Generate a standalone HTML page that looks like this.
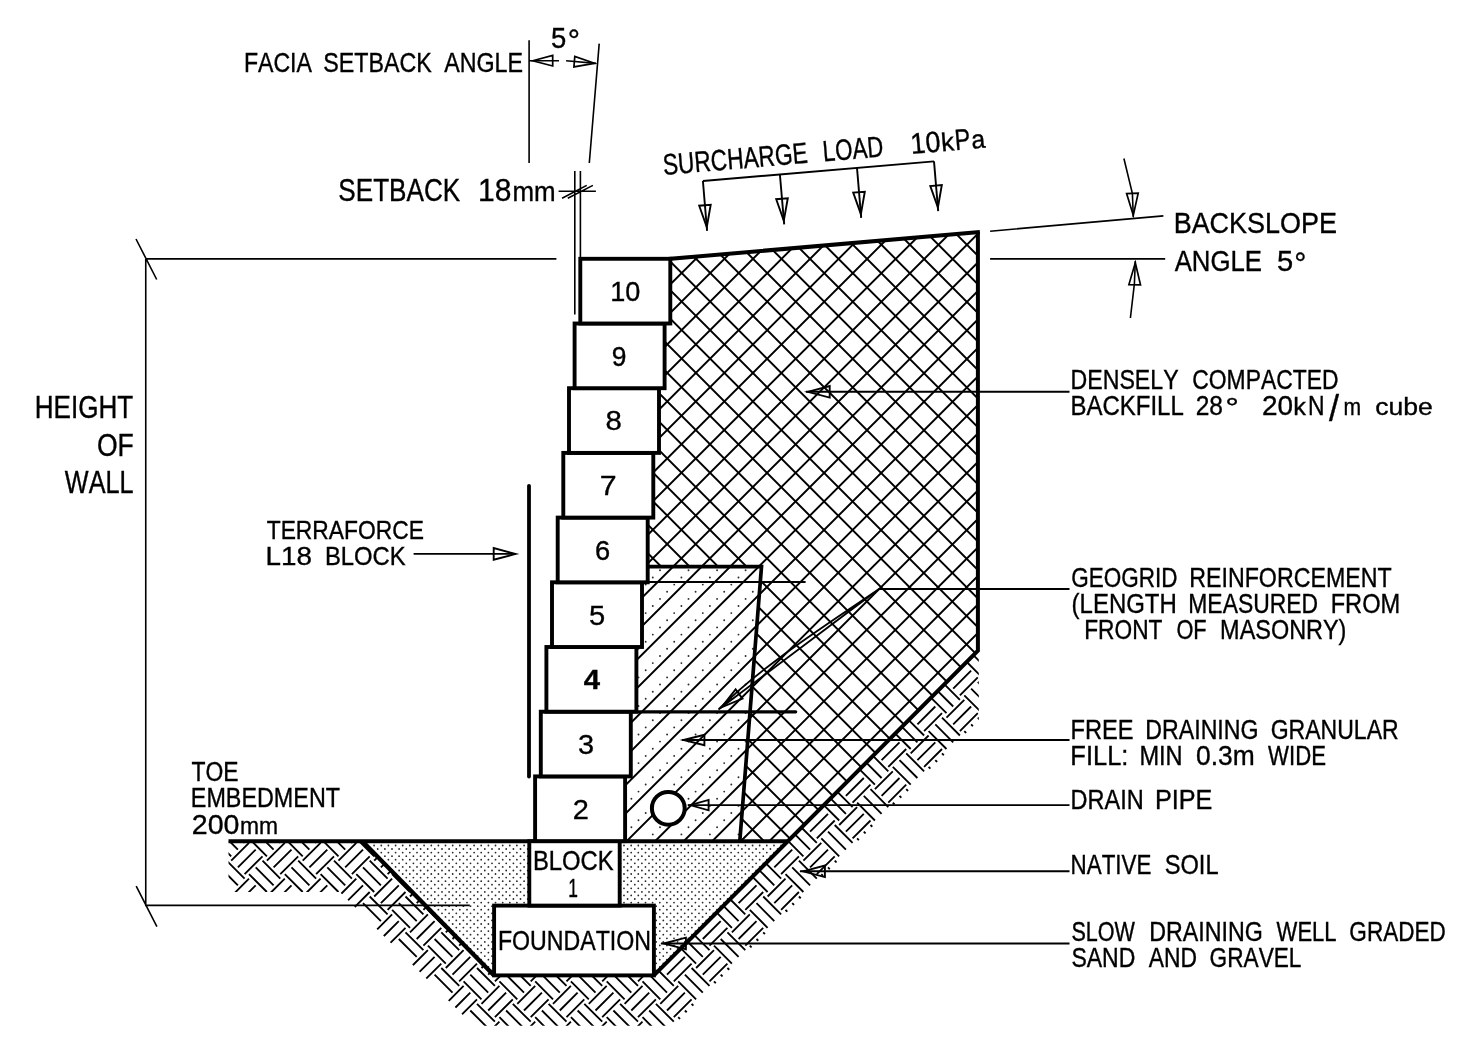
<!DOCTYPE html>
<html lang="en"><head><meta charset="utf-8"><title>Terraforce L18 retaining wall section</title>
<style>html,body{margin:0;padding:0;background:#fff}svg{display:block;will-change:transform}text{font-family:"Liberation Sans",Arial,sans-serif;fill:#000;font-kerning:none;stroke:#000;stroke-width:.35px;vector-effect:non-scaling-stroke}</style></head><body>
<svg width="1482" height="1053" viewBox="0 0 1482 1053">
<rect width="1482" height="1053" fill="#fff"/>
<defs>
<clipPath id="cbf"><polygon points="670.3,258.8 977.9,232.2 977.9,650.7 787.8,841.2 739.8,841.2 761.5,566.7 647.7,566.7 647.7,517.6 653.3,517.6 653.3,452.9 659.0,452.9 659.0,388.2 664.6,388.2 664.6,323.5 670.3,323.5 670.3,258.8"/></clipPath>
<clipPath id="cgf"><polygon points="647.7,566.7 761.5,566.7 739.8,841.2 625.1,841.2 625.1,841.1 625.1,776.4 630.8,776.4 630.8,711.7 636.4,711.7 636.4,647.0 642.0,647.0 642.0,582.3 647.7,582.3"/></clipPath>
<clipPath id="csand"><polygon points="362.4,841.2 787.8,841.2 653.9,975.4 494.1,975.4"/></clipPath>
<clipPath id="cearth"><polygon points="228.5,841.2 362.4,841.2 494.1,975.4 653.9,975.4 977.9,650.7 978.8,650.7 978.8,720.2 673.2,1025.8 473.6,1025.8 339.8,892.0 228.5,892.0"/></clipPath>
</defs>
<g clip-path="url(#cbf)"><path d="M583.5 200.0L-117.7 900.0M612.0 200.0L-89.1 900.0M640.6 200.0L-60.6 900.0M669.1 200.0L-32.0 900.0M697.7 200.0L-3.4 900.0M726.3 200.0L25.1 900.0M754.8 200.0L53.7 900.0M783.4 200.0L82.2 900.0M811.9 200.0L110.8 900.0M840.5 200.0L139.3 900.0M869.0 200.0L167.9 900.0M897.6 200.0L196.4 900.0M926.1 200.0L225.0 900.0M954.7 200.0L253.5 900.0M983.3 200.0L282.1 900.0M1011.8 200.0L310.7 900.0M1040.4 200.0L339.2 900.0M1068.9 200.0L367.8 900.0M1097.5 200.0L396.3 900.0M1126.0 200.0L424.9 900.0M1154.6 200.0L453.4 900.0M1183.1 200.0L482.0 900.0M1211.7 200.0L510.5 900.0M1240.2 200.0L539.1 900.0M1268.8 200.0L567.7 900.0M1297.4 200.0L596.2 900.0M1325.9 200.0L624.8 900.0M1354.5 200.0L653.3 900.0M1383.0 200.0L681.9 900.0M1411.6 200.0L710.4 900.0M1440.1 200.0L739.0 900.0M1468.7 200.0L767.5 900.0M1497.2 200.0L796.1 900.0M1525.8 200.0L824.6 900.0M1554.4 200.0L853.2 900.0M1582.9 200.0L881.8 900.0M1611.5 200.0L910.3 900.0M1640.0 200.0L938.9 900.0M1668.6 200.0L967.4 900.0M1697.1 200.0L996.0 900.0" stroke="#000" stroke-width="1.95" fill="none"/>
<path d="M-131.8 200.0L566.3 900.0M-103.3 200.0L594.8 900.0M-74.8 200.0L623.3 900.0M-46.3 200.0L651.8 900.0M-17.8 200.0L680.3 900.0M10.6 200.0L708.8 900.0M39.1 200.0L737.3 900.0M67.6 200.0L765.7 900.0M96.1 200.0L794.2 900.0M124.6 200.0L822.7 900.0M153.1 200.0L851.2 900.0M181.6 200.0L879.7 900.0M210.1 200.0L908.2 900.0M238.6 200.0L936.7 900.0M267.0 200.0L965.2 900.0M295.5 200.0L993.7 900.0M324.0 200.0L1022.1 900.0M352.5 200.0L1050.6 900.0M381.0 200.0L1079.1 900.0M409.5 200.0L1107.6 900.0M438.0 200.0L1136.1 900.0M466.5 200.0L1164.6 900.0M494.9 200.0L1193.1 900.0M523.4 200.0L1221.6 900.0M551.9 200.0L1250.0 900.0M580.4 200.0L1278.5 900.0M608.9 200.0L1307.0 900.0M637.4 200.0L1335.5 900.0M665.9 200.0L1364.0 900.0M694.4 200.0L1392.5 900.0M722.8 200.0L1421.0 900.0M751.3 200.0L1449.5 900.0M779.8 200.0L1477.9 900.0M808.3 200.0L1506.4 900.0M836.8 200.0L1534.9 900.0M865.3 200.0L1563.4 900.0M893.8 200.0L1591.9 900.0M922.3 200.0L1620.4 900.0M950.8 200.0L1648.9 900.0M979.2 200.0L1677.4 900.0" stroke="#000" stroke-width="1.95" fill="none"/></g>
<g clip-path="url(#cgf)"><path d="M583.5 200.0L-117.7 900.0M612.0 200.0L-89.1 900.0M640.6 200.0L-60.6 900.0M669.1 200.0L-32.0 900.0M697.7 200.0L-3.4 900.0M726.3 200.0L25.1 900.0M754.8 200.0L53.7 900.0M783.4 200.0L82.2 900.0M811.9 200.0L110.8 900.0M840.5 200.0L139.3 900.0M869.0 200.0L167.9 900.0M897.6 200.0L196.4 900.0M926.1 200.0L225.0 900.0M954.7 200.0L253.5 900.0M983.3 200.0L282.1 900.0M1011.8 200.0L310.7 900.0M1040.4 200.0L339.2 900.0M1068.9 200.0L367.8 900.0M1097.5 200.0L396.3 900.0M1126.0 200.0L424.9 900.0M1154.6 200.0L453.4 900.0M1183.1 200.0L482.0 900.0M1211.7 200.0L510.5 900.0M1240.2 200.0L539.1 900.0M1268.8 200.0L567.7 900.0M1297.4 200.0L596.2 900.0M1325.9 200.0L624.8 900.0M1354.5 200.0L653.3 900.0M1383.0 200.0L681.9 900.0M1411.6 200.0L710.4 900.0M1440.1 200.0L739.0 900.0M1468.7 200.0L767.5 900.0M1497.2 200.0L796.1 900.0M1525.8 200.0L824.6 900.0M1554.4 200.0L853.2 900.0M1582.9 200.0L881.8 900.0M1611.5 200.0L910.3 900.0M1640.0 200.0L938.9 900.0M1668.6 200.0L967.4 900.0M1697.1 200.0L996.0 900.0" stroke="#000" stroke-width="1.95" fill="none"/>
<path d="M638.5 563.2h0M631.4 570.3h0M624.3 577.5h0M617.1 584.6h0M667.1 563.2h0M660.0 570.3h0M652.8 577.5h0M645.7 584.6h0M638.5 591.7h0M631.4 598.9h0M624.3 606.0h0M617.1 613.1h0M695.6 563.2h0M688.5 570.3h0M681.4 577.5h0M674.2 584.6h0M667.1 591.7h0M660.0 598.9h0M652.8 606.0h0M645.7 613.1h0M638.5 620.3h0M631.4 627.4h0M624.3 634.6h0M617.1 641.7h0M724.2 563.2h0M717.1 570.3h0M709.9 577.5h0M702.8 584.6h0M695.6 591.7h0M688.5 598.9h0M681.4 606.0h0M674.2 613.1h0M667.1 620.3h0M660.0 627.4h0M652.8 634.6h0M645.7 641.7h0M638.5 648.8h0M631.4 656.0h0M624.3 663.1h0M617.1 670.3h0M752.8 563.2h0M745.6 570.3h0M738.5 577.5h0M731.3 584.6h0M724.2 591.7h0M717.1 598.9h0M709.9 606.0h0M702.8 613.1h0M695.6 620.3h0M688.5 627.4h0M681.4 634.6h0M674.2 641.7h0M667.1 648.8h0M660.0 656.0h0M652.8 663.1h0M645.7 670.3h0M638.5 677.4h0M631.4 684.5h0M624.3 691.7h0M617.1 698.8h0M774.2 570.3h0M767.0 577.5h0M759.9 584.6h0M752.8 591.7h0M745.6 598.9h0M738.5 606.0h0M731.3 613.1h0M724.2 620.3h0M717.1 627.4h0M709.9 634.6h0M702.8 641.7h0M695.6 648.8h0M688.5 656.0h0M681.4 663.1h0M674.2 670.3h0M667.1 677.4h0M660.0 684.5h0M652.8 691.7h0M645.7 698.8h0M638.5 706.0h0M631.4 713.1h0M624.3 720.2h0M617.1 727.4h0M774.2 598.9h0M767.0 606.0h0M759.9 613.1h0M752.8 620.3h0M745.6 627.4h0M738.5 634.6h0M731.3 641.7h0M724.2 648.8h0M717.1 656.0h0M709.9 663.1h0M702.8 670.3h0M695.6 677.4h0M688.5 684.5h0M681.4 691.7h0M674.2 698.8h0M667.1 706.0h0M660.0 713.1h0M652.8 720.2h0M645.7 727.4h0M638.5 734.5h0M631.4 741.6h0M624.3 748.8h0M617.1 755.9h0M774.2 627.4h0M767.0 634.6h0M759.9 641.7h0M752.8 648.8h0M745.6 656.0h0M738.5 663.1h0M731.3 670.3h0M724.2 677.4h0M717.1 684.5h0M709.9 691.7h0M702.8 698.8h0M695.6 706.0h0M688.5 713.1h0M681.4 720.2h0M674.2 727.4h0M667.1 734.5h0M660.0 741.6h0M652.8 748.8h0M645.7 755.9h0M638.5 763.1h0M631.4 770.2h0M624.3 777.3h0M617.1 784.5h0M774.2 656.0h0M767.0 663.1h0M759.9 670.3h0M752.8 677.4h0M745.6 684.5h0M738.5 691.7h0M731.3 698.8h0M724.2 706.0h0M717.1 713.1h0M709.9 720.2h0M702.8 727.4h0M695.6 734.5h0M688.5 741.6h0M681.4 748.8h0M674.2 755.9h0M667.1 763.1h0M660.0 770.2h0M652.8 777.3h0M645.7 784.5h0M638.5 791.6h0M631.4 798.8h0M624.3 805.9h0M617.1 813.0h0M774.2 684.5h0M767.0 691.7h0M759.9 698.8h0M752.8 706.0h0M745.6 713.1h0M738.5 720.2h0M731.3 727.4h0M724.2 734.5h0M717.1 741.6h0M709.9 748.8h0M702.8 755.9h0M695.6 763.1h0M688.5 770.2h0M681.4 777.3h0M674.2 784.5h0M667.1 791.6h0M660.0 798.8h0M652.8 805.9h0M645.7 813.0h0M638.5 820.2h0M631.4 827.3h0M624.3 834.4h0M617.1 841.6h0M774.2 713.1h0M767.0 720.2h0M759.9 727.4h0M752.8 734.5h0M745.6 741.6h0M738.5 748.8h0M731.3 755.9h0M724.2 763.1h0M717.1 770.2h0M709.9 777.3h0M702.8 784.5h0M695.6 791.6h0M688.5 798.8h0M681.4 805.9h0M674.2 813.0h0M667.1 820.2h0M660.0 827.3h0M652.8 834.4h0M645.7 841.6h0M774.2 741.6h0M767.0 748.8h0M759.9 755.9h0M752.8 763.1h0M745.6 770.2h0M738.5 777.3h0M731.3 784.5h0M724.2 791.6h0M717.1 798.8h0M709.9 805.9h0M702.8 813.0h0M695.6 820.2h0M688.5 827.3h0M681.4 834.4h0M674.2 841.6h0M774.2 770.2h0M767.0 777.3h0M759.9 784.5h0M752.8 791.6h0M745.6 798.8h0M738.5 805.9h0M731.3 813.0h0M724.2 820.2h0M717.1 827.3h0M709.9 834.4h0M702.8 841.6h0M774.2 798.8h0M767.0 805.9h0M759.9 813.0h0M752.8 820.2h0M745.6 827.3h0M738.5 834.4h0M731.3 841.6h0" stroke="#2a2a2a" stroke-width="1.9" stroke-linecap="round" fill="none"/></g>
<g clip-path="url(#csand)"><path d="M356.3 841.9h0M356.3 849.0h0M356.3 856.2h0M356.3 863.3h0M356.3 870.5h0M356.3 877.6h0M356.3 884.7h0M356.3 891.9h0M356.3 899.0h0M356.3 906.2h0M356.3 913.3h0M356.3 920.4h0M356.3 927.6h0M356.3 934.7h0M356.3 941.9h0M356.3 949.0h0M356.3 956.1h0M356.3 963.3h0M356.3 970.4h0M356.3 977.6h0M363.4 841.9h0M359.9 845.5h0M363.4 849.0h0M359.9 852.6h0M363.4 856.2h0M359.9 859.7h0M363.4 863.3h0M359.9 866.9h0M363.4 870.5h0M359.9 874.0h0M363.4 877.6h0M359.9 881.2h0M363.4 884.7h0M359.9 888.3h0M363.4 891.9h0M359.9 895.4h0M363.4 899.0h0M359.9 902.6h0M363.4 906.2h0M359.9 909.7h0M363.4 913.3h0M359.9 916.9h0M363.4 920.4h0M359.9 924.0h0M363.4 927.6h0M359.9 931.1h0M363.4 934.7h0M359.9 938.3h0M363.4 941.9h0M359.9 945.4h0M363.4 949.0h0M359.9 952.6h0M363.4 956.1h0M359.9 959.7h0M363.4 963.3h0M359.9 966.8h0M363.4 970.4h0M359.9 974.0h0M363.4 977.6h0M370.6 841.9h0M367.0 845.5h0M370.6 849.0h0M367.0 852.6h0M370.6 856.2h0M367.0 859.7h0M370.6 863.3h0M367.0 866.9h0M370.6 870.5h0M367.0 874.0h0M370.6 877.6h0M367.0 881.2h0M370.6 884.7h0M367.0 888.3h0M370.6 891.9h0M367.0 895.4h0M370.6 899.0h0M367.0 902.6h0M370.6 906.2h0M367.0 909.7h0M370.6 913.3h0M367.0 916.9h0M370.6 920.4h0M367.0 924.0h0M370.6 927.6h0M367.0 931.1h0M370.6 934.7h0M367.0 938.3h0M370.6 941.9h0M367.0 945.4h0M370.6 949.0h0M367.0 952.6h0M370.6 956.1h0M367.0 959.7h0M370.6 963.3h0M367.0 966.8h0M370.6 970.4h0M367.0 974.0h0M370.6 977.6h0M377.7 841.9h0M374.1 845.5h0M377.7 849.0h0M374.1 852.6h0M377.7 856.2h0M374.1 859.7h0M377.7 863.3h0M374.1 866.9h0M377.7 870.5h0M374.1 874.0h0M377.7 877.6h0M374.1 881.2h0M377.7 884.7h0M374.1 888.3h0M377.7 891.9h0M374.1 895.4h0M377.7 899.0h0M374.1 902.6h0M377.7 906.2h0M374.1 909.7h0M377.7 913.3h0M374.1 916.9h0M377.7 920.4h0M374.1 924.0h0M377.7 927.6h0M374.1 931.1h0M377.7 934.7h0M374.1 938.3h0M377.7 941.9h0M374.1 945.4h0M377.7 949.0h0M374.1 952.6h0M377.7 956.1h0M374.1 959.7h0M377.7 963.3h0M374.1 966.8h0M377.7 970.4h0M374.1 974.0h0M377.7 977.6h0M384.9 841.9h0M381.3 845.5h0M384.9 849.0h0M381.3 852.6h0M384.9 856.2h0M381.3 859.7h0M384.9 863.3h0M381.3 866.9h0M384.9 870.5h0M381.3 874.0h0M384.9 877.6h0M381.3 881.2h0M384.9 884.7h0M381.3 888.3h0M384.9 891.9h0M381.3 895.4h0M384.9 899.0h0M381.3 902.6h0M384.9 906.2h0M381.3 909.7h0M384.9 913.3h0M381.3 916.9h0M384.9 920.4h0M381.3 924.0h0M384.9 927.6h0M381.3 931.1h0M384.9 934.7h0M381.3 938.3h0M384.9 941.9h0M381.3 945.4h0M384.9 949.0h0M381.3 952.6h0M384.9 956.1h0M381.3 959.7h0M384.9 963.3h0M381.3 966.8h0M384.9 970.4h0M381.3 974.0h0M384.9 977.6h0M392.0 841.9h0M388.4 845.5h0M392.0 849.0h0M388.4 852.6h0M392.0 856.2h0M388.4 859.7h0M392.0 863.3h0M388.4 866.9h0M392.0 870.5h0M388.4 874.0h0M392.0 877.6h0M388.4 881.2h0M392.0 884.7h0M388.4 888.3h0M392.0 891.9h0M388.4 895.4h0M392.0 899.0h0M388.4 902.6h0M392.0 906.2h0M388.4 909.7h0M392.0 913.3h0M388.4 916.9h0M392.0 920.4h0M388.4 924.0h0M392.0 927.6h0M388.4 931.1h0M392.0 934.7h0M388.4 938.3h0M392.0 941.9h0M388.4 945.4h0M392.0 949.0h0M388.4 952.6h0M392.0 956.1h0M388.4 959.7h0M392.0 963.3h0M388.4 966.8h0M392.0 970.4h0M388.4 974.0h0M392.0 977.6h0M399.1 841.9h0M395.6 845.5h0M399.1 849.0h0M395.6 852.6h0M399.1 856.2h0M395.6 859.7h0M399.1 863.3h0M395.6 866.9h0M399.1 870.5h0M395.6 874.0h0M399.1 877.6h0M395.6 881.2h0M399.1 884.7h0M395.6 888.3h0M399.1 891.9h0M395.6 895.4h0M399.1 899.0h0M395.6 902.6h0M399.1 906.2h0M395.6 909.7h0M399.1 913.3h0M395.6 916.9h0M399.1 920.4h0M395.6 924.0h0M399.1 927.6h0M395.6 931.1h0M399.1 934.7h0M395.6 938.3h0M399.1 941.9h0M395.6 945.4h0M399.1 949.0h0M395.6 952.6h0M399.1 956.1h0M395.6 959.7h0M399.1 963.3h0M395.6 966.8h0M399.1 970.4h0M395.6 974.0h0M399.1 977.6h0M406.3 841.9h0M402.7 845.5h0M406.3 849.0h0M402.7 852.6h0M406.3 856.2h0M402.7 859.7h0M406.3 863.3h0M402.7 866.9h0M406.3 870.5h0M402.7 874.0h0M406.3 877.6h0M402.7 881.2h0M406.3 884.7h0M402.7 888.3h0M406.3 891.9h0M402.7 895.4h0M406.3 899.0h0M402.7 902.6h0M406.3 906.2h0M402.7 909.7h0M406.3 913.3h0M402.7 916.9h0M406.3 920.4h0M402.7 924.0h0M406.3 927.6h0M402.7 931.1h0M406.3 934.7h0M402.7 938.3h0M406.3 941.9h0M402.7 945.4h0M406.3 949.0h0M402.7 952.6h0M406.3 956.1h0M402.7 959.7h0M406.3 963.3h0M402.7 966.8h0M406.3 970.4h0M402.7 974.0h0M406.3 977.6h0M413.4 841.9h0M409.8 845.5h0M413.4 849.0h0M409.8 852.6h0M413.4 856.2h0M409.8 859.7h0M413.4 863.3h0M409.8 866.9h0M413.4 870.5h0M409.8 874.0h0M413.4 877.6h0M409.8 881.2h0M413.4 884.7h0M409.8 888.3h0M413.4 891.9h0M409.8 895.4h0M413.4 899.0h0M409.8 902.6h0M413.4 906.2h0M409.8 909.7h0M413.4 913.3h0M409.8 916.9h0M413.4 920.4h0M409.8 924.0h0M413.4 927.6h0M409.8 931.1h0M413.4 934.7h0M409.8 938.3h0M413.4 941.9h0M409.8 945.4h0M413.4 949.0h0M409.8 952.6h0M413.4 956.1h0M409.8 959.7h0M413.4 963.3h0M409.8 966.8h0M413.4 970.4h0M409.8 974.0h0M413.4 977.6h0M420.6 841.9h0M417.0 845.5h0M420.6 849.0h0M417.0 852.6h0M420.6 856.2h0M417.0 859.7h0M420.6 863.3h0M417.0 866.9h0M420.6 870.5h0M417.0 874.0h0M420.6 877.6h0M417.0 881.2h0M420.6 884.7h0M417.0 888.3h0M420.6 891.9h0M417.0 895.4h0M420.6 899.0h0M417.0 902.6h0M420.6 906.2h0M417.0 909.7h0M420.6 913.3h0M417.0 916.9h0M420.6 920.4h0M417.0 924.0h0M420.6 927.6h0M417.0 931.1h0M420.6 934.7h0M417.0 938.3h0M420.6 941.9h0M417.0 945.4h0M420.6 949.0h0M417.0 952.6h0M420.6 956.1h0M417.0 959.7h0M420.6 963.3h0M417.0 966.8h0M420.6 970.4h0M417.0 974.0h0M420.6 977.6h0M427.7 841.9h0M424.1 845.5h0M427.7 849.0h0M424.1 852.6h0M427.7 856.2h0M424.1 859.7h0M427.7 863.3h0M424.1 866.9h0M427.7 870.5h0M424.1 874.0h0M427.7 877.6h0M424.1 881.2h0M427.7 884.7h0M424.1 888.3h0M427.7 891.9h0M424.1 895.4h0M427.7 899.0h0M424.1 902.6h0M427.7 906.2h0M424.1 909.7h0M427.7 913.3h0M424.1 916.9h0M427.7 920.4h0M424.1 924.0h0M427.7 927.6h0M424.1 931.1h0M427.7 934.7h0M424.1 938.3h0M427.7 941.9h0M424.1 945.4h0M427.7 949.0h0M424.1 952.6h0M427.7 956.1h0M424.1 959.7h0M427.7 963.3h0M424.1 966.8h0M427.7 970.4h0M424.1 974.0h0M427.7 977.6h0M434.8 841.9h0M431.3 845.5h0M434.8 849.0h0M431.3 852.6h0M434.8 856.2h0M431.3 859.7h0M434.8 863.3h0M431.3 866.9h0M434.8 870.5h0M431.3 874.0h0M434.8 877.6h0M431.3 881.2h0M434.8 884.7h0M431.3 888.3h0M434.8 891.9h0M431.3 895.4h0M434.8 899.0h0M431.3 902.6h0M434.8 906.2h0M431.3 909.7h0M434.8 913.3h0M431.3 916.9h0M434.8 920.4h0M431.3 924.0h0M434.8 927.6h0M431.3 931.1h0M434.8 934.7h0M431.3 938.3h0M434.8 941.9h0M431.3 945.4h0M434.8 949.0h0M431.3 952.6h0M434.8 956.1h0M431.3 959.7h0M434.8 963.3h0M431.3 966.8h0M434.8 970.4h0M431.3 974.0h0M434.8 977.6h0M442.0 841.9h0M438.4 845.5h0M442.0 849.0h0M438.4 852.6h0M442.0 856.2h0M438.4 859.7h0M442.0 863.3h0M438.4 866.9h0M442.0 870.5h0M438.4 874.0h0M442.0 877.6h0M438.4 881.2h0M442.0 884.7h0M438.4 888.3h0M442.0 891.9h0M438.4 895.4h0M442.0 899.0h0M438.4 902.6h0M442.0 906.2h0M438.4 909.7h0M442.0 913.3h0M438.4 916.9h0M442.0 920.4h0M438.4 924.0h0M442.0 927.6h0M438.4 931.1h0M442.0 934.7h0M438.4 938.3h0M442.0 941.9h0M438.4 945.4h0M442.0 949.0h0M438.4 952.6h0M442.0 956.1h0M438.4 959.7h0M442.0 963.3h0M438.4 966.8h0M442.0 970.4h0M438.4 974.0h0M442.0 977.6h0M449.1 841.9h0M445.5 845.5h0M449.1 849.0h0M445.5 852.6h0M449.1 856.2h0M445.5 859.7h0M449.1 863.3h0M445.5 866.9h0M449.1 870.5h0M445.5 874.0h0M449.1 877.6h0M445.5 881.2h0M449.1 884.7h0M445.5 888.3h0M449.1 891.9h0M445.5 895.4h0M449.1 899.0h0M445.5 902.6h0M449.1 906.2h0M445.5 909.7h0M449.1 913.3h0M445.5 916.9h0M449.1 920.4h0M445.5 924.0h0M449.1 927.6h0M445.5 931.1h0M449.1 934.7h0M445.5 938.3h0M449.1 941.9h0M445.5 945.4h0M449.1 949.0h0M445.5 952.6h0M449.1 956.1h0M445.5 959.7h0M449.1 963.3h0M445.5 966.8h0M449.1 970.4h0M445.5 974.0h0M449.1 977.6h0M456.3 841.9h0M452.7 845.5h0M456.3 849.0h0M452.7 852.6h0M456.3 856.2h0M452.7 859.7h0M456.3 863.3h0M452.7 866.9h0M456.3 870.5h0M452.7 874.0h0M456.3 877.6h0M452.7 881.2h0M456.3 884.7h0M452.7 888.3h0M456.3 891.9h0M452.7 895.4h0M456.3 899.0h0M452.7 902.6h0M456.3 906.2h0M452.7 909.7h0M456.3 913.3h0M452.7 916.9h0M456.3 920.4h0M452.7 924.0h0M456.3 927.6h0M452.7 931.1h0M456.3 934.7h0M452.7 938.3h0M456.3 941.9h0M452.7 945.4h0M456.3 949.0h0M452.7 952.6h0M456.3 956.1h0M452.7 959.7h0M456.3 963.3h0M452.7 966.8h0M456.3 970.4h0M452.7 974.0h0M456.3 977.6h0M463.4 841.9h0M459.8 845.5h0M463.4 849.0h0M459.8 852.6h0M463.4 856.2h0M459.8 859.7h0M463.4 863.3h0M459.8 866.9h0M463.4 870.5h0M459.8 874.0h0M463.4 877.6h0M459.8 881.2h0M463.4 884.7h0M459.8 888.3h0M463.4 891.9h0M459.8 895.4h0M463.4 899.0h0M459.8 902.6h0M463.4 906.2h0M459.8 909.7h0M463.4 913.3h0M459.8 916.9h0M463.4 920.4h0M459.8 924.0h0M463.4 927.6h0M459.8 931.1h0M463.4 934.7h0M459.8 938.3h0M463.4 941.9h0M459.8 945.4h0M463.4 949.0h0M459.8 952.6h0M463.4 956.1h0M459.8 959.7h0M463.4 963.3h0M459.8 966.8h0M463.4 970.4h0M459.8 974.0h0M463.4 977.6h0M470.5 841.9h0M467.0 845.5h0M470.5 849.0h0M467.0 852.6h0M470.5 856.2h0M467.0 859.7h0M470.5 863.3h0M467.0 866.9h0M470.5 870.5h0M467.0 874.0h0M470.5 877.6h0M467.0 881.2h0M470.5 884.7h0M467.0 888.3h0M470.5 891.9h0M467.0 895.4h0M470.5 899.0h0M467.0 902.6h0M470.5 906.2h0M467.0 909.7h0M470.5 913.3h0M467.0 916.9h0M470.5 920.4h0M467.0 924.0h0M470.5 927.6h0M467.0 931.1h0M470.5 934.7h0M467.0 938.3h0M470.5 941.9h0M467.0 945.4h0M470.5 949.0h0M467.0 952.6h0M470.5 956.1h0M467.0 959.7h0M470.5 963.3h0M467.0 966.8h0M470.5 970.4h0M467.0 974.0h0M470.5 977.6h0M477.7 841.9h0M474.1 845.5h0M477.7 849.0h0M474.1 852.6h0M477.7 856.2h0M474.1 859.7h0M477.7 863.3h0M474.1 866.9h0M477.7 870.5h0M474.1 874.0h0M477.7 877.6h0M474.1 881.2h0M477.7 884.7h0M474.1 888.3h0M477.7 891.9h0M474.1 895.4h0M477.7 899.0h0M474.1 902.6h0M477.7 906.2h0M474.1 909.7h0M477.7 913.3h0M474.1 916.9h0M477.7 920.4h0M474.1 924.0h0M477.7 927.6h0M474.1 931.1h0M477.7 934.7h0M474.1 938.3h0M477.7 941.9h0M474.1 945.4h0M477.7 949.0h0M474.1 952.6h0M477.7 956.1h0M474.1 959.7h0M477.7 963.3h0M474.1 966.8h0M477.7 970.4h0M474.1 974.0h0M477.7 977.6h0M484.8 841.9h0M481.2 845.5h0M484.8 849.0h0M481.2 852.6h0M484.8 856.2h0M481.2 859.7h0M484.8 863.3h0M481.2 866.9h0M484.8 870.5h0M481.2 874.0h0M484.8 877.6h0M481.2 881.2h0M484.8 884.7h0M481.2 888.3h0M484.8 891.9h0M481.2 895.4h0M484.8 899.0h0M481.2 902.6h0M484.8 906.2h0M481.2 909.7h0M484.8 913.3h0M481.2 916.9h0M484.8 920.4h0M481.2 924.0h0M484.8 927.6h0M481.2 931.1h0M484.8 934.7h0M481.2 938.3h0M484.8 941.9h0M481.2 945.4h0M484.8 949.0h0M481.2 952.6h0M484.8 956.1h0M481.2 959.7h0M484.8 963.3h0M481.2 966.8h0M484.8 970.4h0M481.2 974.0h0M484.8 977.6h0M492.0 841.9h0M488.4 845.5h0M492.0 849.0h0M488.4 852.6h0M492.0 856.2h0M488.4 859.7h0M492.0 863.3h0M488.4 866.9h0M492.0 870.5h0M488.4 874.0h0M492.0 877.6h0M488.4 881.2h0M492.0 884.7h0M488.4 888.3h0M492.0 891.9h0M488.4 895.4h0M492.0 899.0h0M488.4 902.6h0M492.0 906.2h0M488.4 909.7h0M492.0 913.3h0M488.4 916.9h0M492.0 920.4h0M488.4 924.0h0M492.0 927.6h0M488.4 931.1h0M492.0 934.7h0M488.4 938.3h0M492.0 941.9h0M488.4 945.4h0M492.0 949.0h0M488.4 952.6h0M492.0 956.1h0M488.4 959.7h0M492.0 963.3h0M488.4 966.8h0M492.0 970.4h0M488.4 974.0h0M492.0 977.6h0M499.1 841.9h0M495.5 845.5h0M499.1 849.0h0M495.5 852.6h0M499.1 856.2h0M495.5 859.7h0M499.1 863.3h0M495.5 866.9h0M499.1 870.5h0M495.5 874.0h0M499.1 877.6h0M495.5 881.2h0M499.1 884.7h0M495.5 888.3h0M499.1 891.9h0M495.5 895.4h0M499.1 899.0h0M495.5 902.6h0M499.1 906.2h0M495.5 909.7h0M499.1 913.3h0M495.5 916.9h0M499.1 920.4h0M495.5 924.0h0M499.1 927.6h0M495.5 931.1h0M499.1 934.7h0M495.5 938.3h0M499.1 941.9h0M495.5 945.4h0M499.1 949.0h0M495.5 952.6h0M499.1 956.1h0M495.5 959.7h0M499.1 963.3h0M495.5 966.8h0M499.1 970.4h0M495.5 974.0h0M499.1 977.6h0M506.2 841.9h0M502.7 845.5h0M506.2 849.0h0M502.7 852.6h0M506.2 856.2h0M502.7 859.7h0M506.2 863.3h0M502.7 866.9h0M506.2 870.5h0M502.7 874.0h0M506.2 877.6h0M502.7 881.2h0M506.2 884.7h0M502.7 888.3h0M506.2 891.9h0M502.7 895.4h0M506.2 899.0h0M502.7 902.6h0M506.2 906.2h0M502.7 909.7h0M506.2 913.3h0M502.7 916.9h0M506.2 920.4h0M502.7 924.0h0M506.2 927.6h0M502.7 931.1h0M506.2 934.7h0M502.7 938.3h0M506.2 941.9h0M502.7 945.4h0M506.2 949.0h0M502.7 952.6h0M506.2 956.1h0M502.7 959.7h0M506.2 963.3h0M502.7 966.8h0M506.2 970.4h0M502.7 974.0h0M506.2 977.6h0M513.4 841.9h0M509.8 845.5h0M513.4 849.0h0M509.8 852.6h0M513.4 856.2h0M509.8 859.7h0M513.4 863.3h0M509.8 866.9h0M513.4 870.5h0M509.8 874.0h0M513.4 877.6h0M509.8 881.2h0M513.4 884.7h0M509.8 888.3h0M513.4 891.9h0M509.8 895.4h0M513.4 899.0h0M509.8 902.6h0M513.4 906.2h0M509.8 909.7h0M513.4 913.3h0M509.8 916.9h0M513.4 920.4h0M509.8 924.0h0M513.4 927.6h0M509.8 931.1h0M513.4 934.7h0M509.8 938.3h0M513.4 941.9h0M509.8 945.4h0M513.4 949.0h0M509.8 952.6h0M513.4 956.1h0M509.8 959.7h0M513.4 963.3h0M509.8 966.8h0M513.4 970.4h0M509.8 974.0h0M513.4 977.6h0M520.5 841.9h0M516.9 845.5h0M520.5 849.0h0M516.9 852.6h0M520.5 856.2h0M516.9 859.7h0M520.5 863.3h0M516.9 866.9h0M520.5 870.5h0M516.9 874.0h0M520.5 877.6h0M516.9 881.2h0M520.5 884.7h0M516.9 888.3h0M520.5 891.9h0M516.9 895.4h0M520.5 899.0h0M516.9 902.6h0M520.5 906.2h0M516.9 909.7h0M520.5 913.3h0M516.9 916.9h0M520.5 920.4h0M516.9 924.0h0M520.5 927.6h0M516.9 931.1h0M520.5 934.7h0M516.9 938.3h0M520.5 941.9h0M516.9 945.4h0M520.5 949.0h0M516.9 952.6h0M520.5 956.1h0M516.9 959.7h0M520.5 963.3h0M516.9 966.8h0M520.5 970.4h0M516.9 974.0h0M520.5 977.6h0M527.7 841.9h0M524.1 845.5h0M527.7 849.0h0M524.1 852.6h0M527.7 856.2h0M524.1 859.7h0M527.7 863.3h0M524.1 866.9h0M527.7 870.5h0M524.1 874.0h0M527.7 877.6h0M524.1 881.2h0M527.7 884.7h0M524.1 888.3h0M527.7 891.9h0M524.1 895.4h0M527.7 899.0h0M524.1 902.6h0M527.7 906.2h0M524.1 909.7h0M527.7 913.3h0M524.1 916.9h0M527.7 920.4h0M524.1 924.0h0M527.7 927.6h0M524.1 931.1h0M527.7 934.7h0M524.1 938.3h0M527.7 941.9h0M524.1 945.4h0M527.7 949.0h0M524.1 952.6h0M527.7 956.1h0M524.1 959.7h0M527.7 963.3h0M524.1 966.8h0M527.7 970.4h0M524.1 974.0h0M527.7 977.6h0M534.8 841.9h0M531.2 845.5h0M534.8 849.0h0M531.2 852.6h0M534.8 856.2h0M531.2 859.7h0M534.8 863.3h0M531.2 866.9h0M534.8 870.5h0M531.2 874.0h0M534.8 877.6h0M531.2 881.2h0M534.8 884.7h0M531.2 888.3h0M534.8 891.9h0M531.2 895.4h0M534.8 899.0h0M531.2 902.6h0M534.8 906.2h0M531.2 909.7h0M534.8 913.3h0M531.2 916.9h0M534.8 920.4h0M531.2 924.0h0M534.8 927.6h0M531.2 931.1h0M534.8 934.7h0M531.2 938.3h0M534.8 941.9h0M531.2 945.4h0M534.8 949.0h0M531.2 952.6h0M534.8 956.1h0M531.2 959.7h0M534.8 963.3h0M531.2 966.8h0M534.8 970.4h0M531.2 974.0h0M534.8 977.6h0M541.9 841.9h0M538.4 845.5h0M541.9 849.0h0M538.4 852.6h0M541.9 856.2h0M538.4 859.7h0M541.9 863.3h0M538.4 866.9h0M541.9 870.5h0M538.4 874.0h0M541.9 877.6h0M538.4 881.2h0M541.9 884.7h0M538.4 888.3h0M541.9 891.9h0M538.4 895.4h0M541.9 899.0h0M538.4 902.6h0M541.9 906.2h0M538.4 909.7h0M541.9 913.3h0M538.4 916.9h0M541.9 920.4h0M538.4 924.0h0M541.9 927.6h0M538.4 931.1h0M541.9 934.7h0M538.4 938.3h0M541.9 941.9h0M538.4 945.4h0M541.9 949.0h0M538.4 952.6h0M541.9 956.1h0M538.4 959.7h0M541.9 963.3h0M538.4 966.8h0M541.9 970.4h0M538.4 974.0h0M541.9 977.6h0M549.1 841.9h0M545.5 845.5h0M549.1 849.0h0M545.5 852.6h0M549.1 856.2h0M545.5 859.7h0M549.1 863.3h0M545.5 866.9h0M549.1 870.5h0M545.5 874.0h0M549.1 877.6h0M545.5 881.2h0M549.1 884.7h0M545.5 888.3h0M549.1 891.9h0M545.5 895.4h0M549.1 899.0h0M545.5 902.6h0M549.1 906.2h0M545.5 909.7h0M549.1 913.3h0M545.5 916.9h0M549.1 920.4h0M545.5 924.0h0M549.1 927.6h0M545.5 931.1h0M549.1 934.7h0M545.5 938.3h0M549.1 941.9h0M545.5 945.4h0M549.1 949.0h0M545.5 952.6h0M549.1 956.1h0M545.5 959.7h0M549.1 963.3h0M545.5 966.8h0M549.1 970.4h0M545.5 974.0h0M549.1 977.6h0M556.2 841.9h0M552.6 845.5h0M556.2 849.0h0M552.6 852.6h0M556.2 856.2h0M552.6 859.7h0M556.2 863.3h0M552.6 866.9h0M556.2 870.5h0M552.6 874.0h0M556.2 877.6h0M552.6 881.2h0M556.2 884.7h0M552.6 888.3h0M556.2 891.9h0M552.6 895.4h0M556.2 899.0h0M552.6 902.6h0M556.2 906.2h0M552.6 909.7h0M556.2 913.3h0M552.6 916.9h0M556.2 920.4h0M552.6 924.0h0M556.2 927.6h0M552.6 931.1h0M556.2 934.7h0M552.6 938.3h0M556.2 941.9h0M552.6 945.4h0M556.2 949.0h0M552.6 952.6h0M556.2 956.1h0M552.6 959.7h0M556.2 963.3h0M552.6 966.8h0M556.2 970.4h0M552.6 974.0h0M556.2 977.6h0M563.4 841.9h0M559.8 845.5h0M563.4 849.0h0M559.8 852.6h0M563.4 856.2h0M559.8 859.7h0M563.4 863.3h0M559.8 866.9h0M563.4 870.5h0M559.8 874.0h0M563.4 877.6h0M559.8 881.2h0M563.4 884.7h0M559.8 888.3h0M563.4 891.9h0M559.8 895.4h0M563.4 899.0h0M559.8 902.6h0M563.4 906.2h0M559.8 909.7h0M563.4 913.3h0M559.8 916.9h0M563.4 920.4h0M559.8 924.0h0M563.4 927.6h0M559.8 931.1h0M563.4 934.7h0M559.8 938.3h0M563.4 941.9h0M559.8 945.4h0M563.4 949.0h0M559.8 952.6h0M563.4 956.1h0M559.8 959.7h0M563.4 963.3h0M559.8 966.8h0M563.4 970.4h0M559.8 974.0h0M563.4 977.6h0M570.5 841.9h0M566.9 845.5h0M570.5 849.0h0M566.9 852.6h0M570.5 856.2h0M566.9 859.7h0M570.5 863.3h0M566.9 866.9h0M570.5 870.5h0M566.9 874.0h0M570.5 877.6h0M566.9 881.2h0M570.5 884.7h0M566.9 888.3h0M570.5 891.9h0M566.9 895.4h0M570.5 899.0h0M566.9 902.6h0M570.5 906.2h0M566.9 909.7h0M570.5 913.3h0M566.9 916.9h0M570.5 920.4h0M566.9 924.0h0M570.5 927.6h0M566.9 931.1h0M570.5 934.7h0M566.9 938.3h0M570.5 941.9h0M566.9 945.4h0M570.5 949.0h0M566.9 952.6h0M570.5 956.1h0M566.9 959.7h0M570.5 963.3h0M566.9 966.8h0M570.5 970.4h0M566.9 974.0h0M570.5 977.6h0M577.6 841.9h0M574.1 845.5h0M577.6 849.0h0M574.1 852.6h0M577.6 856.2h0M574.1 859.7h0M577.6 863.3h0M574.1 866.9h0M577.6 870.5h0M574.1 874.0h0M577.6 877.6h0M574.1 881.2h0M577.6 884.7h0M574.1 888.3h0M577.6 891.9h0M574.1 895.4h0M577.6 899.0h0M574.1 902.6h0M577.6 906.2h0M574.1 909.7h0M577.6 913.3h0M574.1 916.9h0M577.6 920.4h0M574.1 924.0h0M577.6 927.6h0M574.1 931.1h0M577.6 934.7h0M574.1 938.3h0M577.6 941.9h0M574.1 945.4h0M577.6 949.0h0M574.1 952.6h0M577.6 956.1h0M574.1 959.7h0M577.6 963.3h0M574.1 966.8h0M577.6 970.4h0M574.1 974.0h0M577.6 977.6h0M584.8 841.9h0M581.2 845.5h0M584.8 849.0h0M581.2 852.6h0M584.8 856.2h0M581.2 859.7h0M584.8 863.3h0M581.2 866.9h0M584.8 870.5h0M581.2 874.0h0M584.8 877.6h0M581.2 881.2h0M584.8 884.7h0M581.2 888.3h0M584.8 891.9h0M581.2 895.4h0M584.8 899.0h0M581.2 902.6h0M584.8 906.2h0M581.2 909.7h0M584.8 913.3h0M581.2 916.9h0M584.8 920.4h0M581.2 924.0h0M584.8 927.6h0M581.2 931.1h0M584.8 934.7h0M581.2 938.3h0M584.8 941.9h0M581.2 945.4h0M584.8 949.0h0M581.2 952.6h0M584.8 956.1h0M581.2 959.7h0M584.8 963.3h0M581.2 966.8h0M584.8 970.4h0M581.2 974.0h0M584.8 977.6h0M591.9 841.9h0M588.3 845.5h0M591.9 849.0h0M588.3 852.6h0M591.9 856.2h0M588.3 859.7h0M591.9 863.3h0M588.3 866.9h0M591.9 870.5h0M588.3 874.0h0M591.9 877.6h0M588.3 881.2h0M591.9 884.7h0M588.3 888.3h0M591.9 891.9h0M588.3 895.4h0M591.9 899.0h0M588.3 902.6h0M591.9 906.2h0M588.3 909.7h0M591.9 913.3h0M588.3 916.9h0M591.9 920.4h0M588.3 924.0h0M591.9 927.6h0M588.3 931.1h0M591.9 934.7h0M588.3 938.3h0M591.9 941.9h0M588.3 945.4h0M591.9 949.0h0M588.3 952.6h0M591.9 956.1h0M588.3 959.7h0M591.9 963.3h0M588.3 966.8h0M591.9 970.4h0M588.3 974.0h0M591.9 977.6h0M599.1 841.9h0M595.5 845.5h0M599.1 849.0h0M595.5 852.6h0M599.1 856.2h0M595.5 859.7h0M599.1 863.3h0M595.5 866.9h0M599.1 870.5h0M595.5 874.0h0M599.1 877.6h0M595.5 881.2h0M599.1 884.7h0M595.5 888.3h0M599.1 891.9h0M595.5 895.4h0M599.1 899.0h0M595.5 902.6h0M599.1 906.2h0M595.5 909.7h0M599.1 913.3h0M595.5 916.9h0M599.1 920.4h0M595.5 924.0h0M599.1 927.6h0M595.5 931.1h0M599.1 934.7h0M595.5 938.3h0M599.1 941.9h0M595.5 945.4h0M599.1 949.0h0M595.5 952.6h0M599.1 956.1h0M595.5 959.7h0M599.1 963.3h0M595.5 966.8h0M599.1 970.4h0M595.5 974.0h0M599.1 977.6h0M606.2 841.9h0M602.6 845.5h0M606.2 849.0h0M602.6 852.6h0M606.2 856.2h0M602.6 859.7h0M606.2 863.3h0M602.6 866.9h0M606.2 870.5h0M602.6 874.0h0M606.2 877.6h0M602.6 881.2h0M606.2 884.7h0M602.6 888.3h0M606.2 891.9h0M602.6 895.4h0M606.2 899.0h0M602.6 902.6h0M606.2 906.2h0M602.6 909.7h0M606.2 913.3h0M602.6 916.9h0M606.2 920.4h0M602.6 924.0h0M606.2 927.6h0M602.6 931.1h0M606.2 934.7h0M602.6 938.3h0M606.2 941.9h0M602.6 945.4h0M606.2 949.0h0M602.6 952.6h0M606.2 956.1h0M602.6 959.7h0M606.2 963.3h0M602.6 966.8h0M606.2 970.4h0M602.6 974.0h0M606.2 977.6h0M613.3 841.9h0M609.8 845.5h0M613.3 849.0h0M609.8 852.6h0M613.3 856.2h0M609.8 859.7h0M613.3 863.3h0M609.8 866.9h0M613.3 870.5h0M609.8 874.0h0M613.3 877.6h0M609.8 881.2h0M613.3 884.7h0M609.8 888.3h0M613.3 891.9h0M609.8 895.4h0M613.3 899.0h0M609.8 902.6h0M613.3 906.2h0M609.8 909.7h0M613.3 913.3h0M609.8 916.9h0M613.3 920.4h0M609.8 924.0h0M613.3 927.6h0M609.8 931.1h0M613.3 934.7h0M609.8 938.3h0M613.3 941.9h0M609.8 945.4h0M613.3 949.0h0M609.8 952.6h0M613.3 956.1h0M609.8 959.7h0M613.3 963.3h0M609.8 966.8h0M613.3 970.4h0M609.8 974.0h0M613.3 977.6h0M620.5 841.9h0M616.9 845.5h0M620.5 849.0h0M616.9 852.6h0M620.5 856.2h0M616.9 859.7h0M620.5 863.3h0M616.9 866.9h0M620.5 870.5h0M616.9 874.0h0M620.5 877.6h0M616.9 881.2h0M620.5 884.7h0M616.9 888.3h0M620.5 891.9h0M616.9 895.4h0M620.5 899.0h0M616.9 902.6h0M620.5 906.2h0M616.9 909.7h0M620.5 913.3h0M616.9 916.9h0M620.5 920.4h0M616.9 924.0h0M620.5 927.6h0M616.9 931.1h0M620.5 934.7h0M616.9 938.3h0M620.5 941.9h0M616.9 945.4h0M620.5 949.0h0M616.9 952.6h0M620.5 956.1h0M616.9 959.7h0M620.5 963.3h0M616.9 966.8h0M620.5 970.4h0M616.9 974.0h0M620.5 977.6h0M627.6 841.9h0M624.0 845.5h0M627.6 849.0h0M624.0 852.6h0M627.6 856.2h0M624.0 859.7h0M627.6 863.3h0M624.0 866.9h0M627.6 870.5h0M624.0 874.0h0M627.6 877.6h0M624.0 881.2h0M627.6 884.7h0M624.0 888.3h0M627.6 891.9h0M624.0 895.4h0M627.6 899.0h0M624.0 902.6h0M627.6 906.2h0M624.0 909.7h0M627.6 913.3h0M624.0 916.9h0M627.6 920.4h0M624.0 924.0h0M627.6 927.6h0M624.0 931.1h0M627.6 934.7h0M624.0 938.3h0M627.6 941.9h0M624.0 945.4h0M627.6 949.0h0M624.0 952.6h0M627.6 956.1h0M624.0 959.7h0M627.6 963.3h0M624.0 966.8h0M627.6 970.4h0M624.0 974.0h0M627.6 977.6h0M634.8 841.9h0M631.2 845.5h0M634.8 849.0h0M631.2 852.6h0M634.8 856.2h0M631.2 859.7h0M634.8 863.3h0M631.2 866.9h0M634.8 870.5h0M631.2 874.0h0M634.8 877.6h0M631.2 881.2h0M634.8 884.7h0M631.2 888.3h0M634.8 891.9h0M631.2 895.4h0M634.8 899.0h0M631.2 902.6h0M634.8 906.2h0M631.2 909.7h0M634.8 913.3h0M631.2 916.9h0M634.8 920.4h0M631.2 924.0h0M634.8 927.6h0M631.2 931.1h0M634.8 934.7h0M631.2 938.3h0M634.8 941.9h0M631.2 945.4h0M634.8 949.0h0M631.2 952.6h0M634.8 956.1h0M631.2 959.7h0M634.8 963.3h0M631.2 966.8h0M634.8 970.4h0M631.2 974.0h0M634.8 977.6h0M641.9 841.9h0M638.3 845.5h0M641.9 849.0h0M638.3 852.6h0M641.9 856.2h0M638.3 859.7h0M641.9 863.3h0M638.3 866.9h0M641.9 870.5h0M638.3 874.0h0M641.9 877.6h0M638.3 881.2h0M641.9 884.7h0M638.3 888.3h0M641.9 891.9h0M638.3 895.4h0M641.9 899.0h0M638.3 902.6h0M641.9 906.2h0M638.3 909.7h0M641.9 913.3h0M638.3 916.9h0M641.9 920.4h0M638.3 924.0h0M641.9 927.6h0M638.3 931.1h0M641.9 934.7h0M638.3 938.3h0M641.9 941.9h0M638.3 945.4h0M641.9 949.0h0M638.3 952.6h0M641.9 956.1h0M638.3 959.7h0M641.9 963.3h0M638.3 966.8h0M641.9 970.4h0M638.3 974.0h0M641.9 977.6h0M649.0 841.9h0M645.5 845.5h0M649.0 849.0h0M645.5 852.6h0M649.0 856.2h0M645.5 859.7h0M649.0 863.3h0M645.5 866.9h0M649.0 870.5h0M645.5 874.0h0M649.0 877.6h0M645.5 881.2h0M649.0 884.7h0M645.5 888.3h0M649.0 891.9h0M645.5 895.4h0M649.0 899.0h0M645.5 902.6h0M649.0 906.2h0M645.5 909.7h0M649.0 913.3h0M645.5 916.9h0M649.0 920.4h0M645.5 924.0h0M649.0 927.6h0M645.5 931.1h0M649.0 934.7h0M645.5 938.3h0M649.0 941.9h0M645.5 945.4h0M649.0 949.0h0M645.5 952.6h0M649.0 956.1h0M645.5 959.7h0M649.0 963.3h0M645.5 966.8h0M649.0 970.4h0M645.5 974.0h0M649.0 977.6h0M656.2 841.9h0M652.6 845.5h0M656.2 849.0h0M652.6 852.6h0M656.2 856.2h0M652.6 859.7h0M656.2 863.3h0M652.6 866.9h0M656.2 870.5h0M652.6 874.0h0M656.2 877.6h0M652.6 881.2h0M656.2 884.7h0M652.6 888.3h0M656.2 891.9h0M652.6 895.4h0M656.2 899.0h0M652.6 902.6h0M656.2 906.2h0M652.6 909.7h0M656.2 913.3h0M652.6 916.9h0M656.2 920.4h0M652.6 924.0h0M656.2 927.6h0M652.6 931.1h0M656.2 934.7h0M652.6 938.3h0M656.2 941.9h0M652.6 945.4h0M656.2 949.0h0M652.6 952.6h0M656.2 956.1h0M652.6 959.7h0M656.2 963.3h0M652.6 966.8h0M656.2 970.4h0M652.6 974.0h0M656.2 977.6h0M663.3 841.9h0M659.8 845.5h0M663.3 849.0h0M659.8 852.6h0M663.3 856.2h0M659.8 859.7h0M663.3 863.3h0M659.8 866.9h0M663.3 870.5h0M659.8 874.0h0M663.3 877.6h0M659.8 881.2h0M663.3 884.7h0M659.8 888.3h0M663.3 891.9h0M659.8 895.4h0M663.3 899.0h0M659.8 902.6h0M663.3 906.2h0M659.8 909.7h0M663.3 913.3h0M659.8 916.9h0M663.3 920.4h0M659.8 924.0h0M663.3 927.6h0M659.8 931.1h0M663.3 934.7h0M659.8 938.3h0M663.3 941.9h0M659.8 945.4h0M663.3 949.0h0M659.8 952.6h0M663.3 956.1h0M659.8 959.7h0M663.3 963.3h0M659.8 966.8h0M663.3 970.4h0M659.8 974.0h0M663.3 977.6h0M670.5 841.9h0M666.9 845.5h0M670.5 849.0h0M666.9 852.6h0M670.5 856.2h0M666.9 859.7h0M670.5 863.3h0M666.9 866.9h0M670.5 870.5h0M666.9 874.0h0M670.5 877.6h0M666.9 881.2h0M670.5 884.7h0M666.9 888.3h0M670.5 891.9h0M666.9 895.4h0M670.5 899.0h0M666.9 902.6h0M670.5 906.2h0M666.9 909.7h0M670.5 913.3h0M666.9 916.9h0M670.5 920.4h0M666.9 924.0h0M670.5 927.6h0M666.9 931.1h0M670.5 934.7h0M666.9 938.3h0M670.5 941.9h0M666.9 945.4h0M670.5 949.0h0M666.9 952.6h0M670.5 956.1h0M666.9 959.7h0M670.5 963.3h0M666.9 966.8h0M670.5 970.4h0M666.9 974.0h0M670.5 977.6h0M677.6 841.9h0M674.0 845.5h0M677.6 849.0h0M674.0 852.6h0M677.6 856.2h0M674.0 859.7h0M677.6 863.3h0M674.0 866.9h0M677.6 870.5h0M674.0 874.0h0M677.6 877.6h0M674.0 881.2h0M677.6 884.7h0M674.0 888.3h0M677.6 891.9h0M674.0 895.4h0M677.6 899.0h0M674.0 902.6h0M677.6 906.2h0M674.0 909.7h0M677.6 913.3h0M674.0 916.9h0M677.6 920.4h0M674.0 924.0h0M677.6 927.6h0M674.0 931.1h0M677.6 934.7h0M674.0 938.3h0M677.6 941.9h0M674.0 945.4h0M677.6 949.0h0M674.0 952.6h0M677.6 956.1h0M674.0 959.7h0M677.6 963.3h0M674.0 966.8h0M677.6 970.4h0M674.0 974.0h0M677.6 977.6h0M684.7 841.9h0M681.2 845.5h0M684.7 849.0h0M681.2 852.6h0M684.7 856.2h0M681.2 859.7h0M684.7 863.3h0M681.2 866.9h0M684.7 870.5h0M681.2 874.0h0M684.7 877.6h0M681.2 881.2h0M684.7 884.7h0M681.2 888.3h0M684.7 891.9h0M681.2 895.4h0M684.7 899.0h0M681.2 902.6h0M684.7 906.2h0M681.2 909.7h0M684.7 913.3h0M681.2 916.9h0M684.7 920.4h0M681.2 924.0h0M684.7 927.6h0M681.2 931.1h0M684.7 934.7h0M681.2 938.3h0M684.7 941.9h0M681.2 945.4h0M684.7 949.0h0M681.2 952.6h0M684.7 956.1h0M681.2 959.7h0M684.7 963.3h0M681.2 966.8h0M684.7 970.4h0M681.2 974.0h0M684.7 977.6h0M691.9 841.9h0M688.3 845.5h0M691.9 849.0h0M688.3 852.6h0M691.9 856.2h0M688.3 859.7h0M691.9 863.3h0M688.3 866.9h0M691.9 870.5h0M688.3 874.0h0M691.9 877.6h0M688.3 881.2h0M691.9 884.7h0M688.3 888.3h0M691.9 891.9h0M688.3 895.4h0M691.9 899.0h0M688.3 902.6h0M691.9 906.2h0M688.3 909.7h0M691.9 913.3h0M688.3 916.9h0M691.9 920.4h0M688.3 924.0h0M691.9 927.6h0M688.3 931.1h0M691.9 934.7h0M688.3 938.3h0M691.9 941.9h0M688.3 945.4h0M691.9 949.0h0M688.3 952.6h0M691.9 956.1h0M688.3 959.7h0M691.9 963.3h0M688.3 966.8h0M691.9 970.4h0M688.3 974.0h0M691.9 977.6h0M699.0 841.9h0M695.4 845.5h0M699.0 849.0h0M695.4 852.6h0M699.0 856.2h0M695.4 859.7h0M699.0 863.3h0M695.4 866.9h0M699.0 870.5h0M695.4 874.0h0M699.0 877.6h0M695.4 881.2h0M699.0 884.7h0M695.4 888.3h0M699.0 891.9h0M695.4 895.4h0M699.0 899.0h0M695.4 902.6h0M699.0 906.2h0M695.4 909.7h0M699.0 913.3h0M695.4 916.9h0M699.0 920.4h0M695.4 924.0h0M699.0 927.6h0M695.4 931.1h0M699.0 934.7h0M695.4 938.3h0M699.0 941.9h0M695.4 945.4h0M699.0 949.0h0M695.4 952.6h0M699.0 956.1h0M695.4 959.7h0M699.0 963.3h0M695.4 966.8h0M699.0 970.4h0M695.4 974.0h0M699.0 977.6h0M706.2 841.9h0M702.6 845.5h0M706.2 849.0h0M702.6 852.6h0M706.2 856.2h0M702.6 859.7h0M706.2 863.3h0M702.6 866.9h0M706.2 870.5h0M702.6 874.0h0M706.2 877.6h0M702.6 881.2h0M706.2 884.7h0M702.6 888.3h0M706.2 891.9h0M702.6 895.4h0M706.2 899.0h0M702.6 902.6h0M706.2 906.2h0M702.6 909.7h0M706.2 913.3h0M702.6 916.9h0M706.2 920.4h0M702.6 924.0h0M706.2 927.6h0M702.6 931.1h0M706.2 934.7h0M702.6 938.3h0M706.2 941.9h0M702.6 945.4h0M706.2 949.0h0M702.6 952.6h0M706.2 956.1h0M702.6 959.7h0M706.2 963.3h0M702.6 966.8h0M706.2 970.4h0M702.6 974.0h0M706.2 977.6h0M713.3 841.9h0M709.7 845.5h0M713.3 849.0h0M709.7 852.6h0M713.3 856.2h0M709.7 859.7h0M713.3 863.3h0M709.7 866.9h0M713.3 870.5h0M709.7 874.0h0M713.3 877.6h0M709.7 881.2h0M713.3 884.7h0M709.7 888.3h0M713.3 891.9h0M709.7 895.4h0M713.3 899.0h0M709.7 902.6h0M713.3 906.2h0M709.7 909.7h0M713.3 913.3h0M709.7 916.9h0M713.3 920.4h0M709.7 924.0h0M713.3 927.6h0M709.7 931.1h0M713.3 934.7h0M709.7 938.3h0M713.3 941.9h0M709.7 945.4h0M713.3 949.0h0M709.7 952.6h0M713.3 956.1h0M709.7 959.7h0M713.3 963.3h0M709.7 966.8h0M713.3 970.4h0M709.7 974.0h0M713.3 977.6h0M720.4 841.9h0M716.9 845.5h0M720.4 849.0h0M716.9 852.6h0M720.4 856.2h0M716.9 859.7h0M720.4 863.3h0M716.9 866.9h0M720.4 870.5h0M716.9 874.0h0M720.4 877.6h0M716.9 881.2h0M720.4 884.7h0M716.9 888.3h0M720.4 891.9h0M716.9 895.4h0M720.4 899.0h0M716.9 902.6h0M720.4 906.2h0M716.9 909.7h0M720.4 913.3h0M716.9 916.9h0M720.4 920.4h0M716.9 924.0h0M720.4 927.6h0M716.9 931.1h0M720.4 934.7h0M716.9 938.3h0M720.4 941.9h0M716.9 945.4h0M720.4 949.0h0M716.9 952.6h0M720.4 956.1h0M716.9 959.7h0M720.4 963.3h0M716.9 966.8h0M720.4 970.4h0M716.9 974.0h0M720.4 977.6h0M727.6 841.9h0M724.0 845.5h0M727.6 849.0h0M724.0 852.6h0M727.6 856.2h0M724.0 859.7h0M727.6 863.3h0M724.0 866.9h0M727.6 870.5h0M724.0 874.0h0M727.6 877.6h0M724.0 881.2h0M727.6 884.7h0M724.0 888.3h0M727.6 891.9h0M724.0 895.4h0M727.6 899.0h0M724.0 902.6h0M727.6 906.2h0M724.0 909.7h0M727.6 913.3h0M724.0 916.9h0M727.6 920.4h0M724.0 924.0h0M727.6 927.6h0M724.0 931.1h0M727.6 934.7h0M724.0 938.3h0M727.6 941.9h0M724.0 945.4h0M727.6 949.0h0M724.0 952.6h0M727.6 956.1h0M724.0 959.7h0M727.6 963.3h0M724.0 966.8h0M727.6 970.4h0M724.0 974.0h0M727.6 977.6h0M734.7 841.9h0M731.1 845.5h0M734.7 849.0h0M731.1 852.6h0M734.7 856.2h0M731.1 859.7h0M734.7 863.3h0M731.1 866.9h0M734.7 870.5h0M731.1 874.0h0M734.7 877.6h0M731.1 881.2h0M734.7 884.7h0M731.1 888.3h0M734.7 891.9h0M731.1 895.4h0M734.7 899.0h0M731.1 902.6h0M734.7 906.2h0M731.1 909.7h0M734.7 913.3h0M731.1 916.9h0M734.7 920.4h0M731.1 924.0h0M734.7 927.6h0M731.1 931.1h0M734.7 934.7h0M731.1 938.3h0M734.7 941.9h0M731.1 945.4h0M734.7 949.0h0M731.1 952.6h0M734.7 956.1h0M731.1 959.7h0M734.7 963.3h0M731.1 966.8h0M734.7 970.4h0M731.1 974.0h0M734.7 977.6h0M741.9 841.9h0M738.3 845.5h0M741.9 849.0h0M738.3 852.6h0M741.9 856.2h0M738.3 859.7h0M741.9 863.3h0M738.3 866.9h0M741.9 870.5h0M738.3 874.0h0M741.9 877.6h0M738.3 881.2h0M741.9 884.7h0M738.3 888.3h0M741.9 891.9h0M738.3 895.4h0M741.9 899.0h0M738.3 902.6h0M741.9 906.2h0M738.3 909.7h0M741.9 913.3h0M738.3 916.9h0M741.9 920.4h0M738.3 924.0h0M741.9 927.6h0M738.3 931.1h0M741.9 934.7h0M738.3 938.3h0M741.9 941.9h0M738.3 945.4h0M741.9 949.0h0M738.3 952.6h0M741.9 956.1h0M738.3 959.7h0M741.9 963.3h0M738.3 966.8h0M741.9 970.4h0M738.3 974.0h0M741.9 977.6h0M749.0 841.9h0M745.4 845.5h0M749.0 849.0h0M745.4 852.6h0M749.0 856.2h0M745.4 859.7h0M749.0 863.3h0M745.4 866.9h0M749.0 870.5h0M745.4 874.0h0M749.0 877.6h0M745.4 881.2h0M749.0 884.7h0M745.4 888.3h0M749.0 891.9h0M745.4 895.4h0M749.0 899.0h0M745.4 902.6h0M749.0 906.2h0M745.4 909.7h0M749.0 913.3h0M745.4 916.9h0M749.0 920.4h0M745.4 924.0h0M749.0 927.6h0M745.4 931.1h0M749.0 934.7h0M745.4 938.3h0M749.0 941.9h0M745.4 945.4h0M749.0 949.0h0M745.4 952.6h0M749.0 956.1h0M745.4 959.7h0M749.0 963.3h0M745.4 966.8h0M749.0 970.4h0M745.4 974.0h0M749.0 977.6h0M756.1 841.9h0M752.6 845.5h0M756.1 849.0h0M752.6 852.6h0M756.1 856.2h0M752.6 859.7h0M756.1 863.3h0M752.6 866.9h0M756.1 870.5h0M752.6 874.0h0M756.1 877.6h0M752.6 881.2h0M756.1 884.7h0M752.6 888.3h0M756.1 891.9h0M752.6 895.4h0M756.1 899.0h0M752.6 902.6h0M756.1 906.2h0M752.6 909.7h0M756.1 913.3h0M752.6 916.9h0M756.1 920.4h0M752.6 924.0h0M756.1 927.6h0M752.6 931.1h0M756.1 934.7h0M752.6 938.3h0M756.1 941.9h0M752.6 945.4h0M756.1 949.0h0M752.6 952.6h0M756.1 956.1h0M752.6 959.7h0M756.1 963.3h0M752.6 966.8h0M756.1 970.4h0M752.6 974.0h0M756.1 977.6h0M763.3 841.9h0M759.7 845.5h0M763.3 849.0h0M759.7 852.6h0M763.3 856.2h0M759.7 859.7h0M763.3 863.3h0M759.7 866.9h0M763.3 870.5h0M759.7 874.0h0M763.3 877.6h0M759.7 881.2h0M763.3 884.7h0M759.7 888.3h0M763.3 891.9h0M759.7 895.4h0M763.3 899.0h0M759.7 902.6h0M763.3 906.2h0M759.7 909.7h0M763.3 913.3h0M759.7 916.9h0M763.3 920.4h0M759.7 924.0h0M763.3 927.6h0M759.7 931.1h0M763.3 934.7h0M759.7 938.3h0M763.3 941.9h0M759.7 945.4h0M763.3 949.0h0M759.7 952.6h0M763.3 956.1h0M759.7 959.7h0M763.3 963.3h0M759.7 966.8h0M763.3 970.4h0M759.7 974.0h0M763.3 977.6h0M770.4 841.9h0M766.8 845.5h0M770.4 849.0h0M766.8 852.6h0M770.4 856.2h0M766.8 859.7h0M770.4 863.3h0M766.8 866.9h0M770.4 870.5h0M766.8 874.0h0M770.4 877.6h0M766.8 881.2h0M770.4 884.7h0M766.8 888.3h0M770.4 891.9h0M766.8 895.4h0M770.4 899.0h0M766.8 902.6h0M770.4 906.2h0M766.8 909.7h0M770.4 913.3h0M766.8 916.9h0M770.4 920.4h0M766.8 924.0h0M770.4 927.6h0M766.8 931.1h0M770.4 934.7h0M766.8 938.3h0M770.4 941.9h0M766.8 945.4h0M770.4 949.0h0M766.8 952.6h0M770.4 956.1h0M766.8 959.7h0M770.4 963.3h0M766.8 966.8h0M770.4 970.4h0M766.8 974.0h0M770.4 977.6h0M777.6 841.9h0M774.0 845.5h0M777.6 849.0h0M774.0 852.6h0M777.6 856.2h0M774.0 859.7h0M777.6 863.3h0M774.0 866.9h0M777.6 870.5h0M774.0 874.0h0M777.6 877.6h0M774.0 881.2h0M777.6 884.7h0M774.0 888.3h0M777.6 891.9h0M774.0 895.4h0M777.6 899.0h0M774.0 902.6h0M777.6 906.2h0M774.0 909.7h0M777.6 913.3h0M774.0 916.9h0M777.6 920.4h0M774.0 924.0h0M777.6 927.6h0M774.0 931.1h0M777.6 934.7h0M774.0 938.3h0M777.6 941.9h0M774.0 945.4h0M777.6 949.0h0M774.0 952.6h0M777.6 956.1h0M774.0 959.7h0M777.6 963.3h0M774.0 966.8h0M777.6 970.4h0M774.0 974.0h0M777.6 977.6h0M784.7 841.9h0M781.1 845.5h0M784.7 849.0h0M781.1 852.6h0M784.7 856.2h0M781.1 859.7h0M784.7 863.3h0M781.1 866.9h0M784.7 870.5h0M781.1 874.0h0M784.7 877.6h0M781.1 881.2h0M784.7 884.7h0M781.1 888.3h0M784.7 891.9h0M781.1 895.4h0M784.7 899.0h0M781.1 902.6h0M784.7 906.2h0M781.1 909.7h0M784.7 913.3h0M781.1 916.9h0M784.7 920.4h0M781.1 924.0h0M784.7 927.6h0M781.1 931.1h0M784.7 934.7h0M781.1 938.3h0M784.7 941.9h0M781.1 945.4h0M784.7 949.0h0M781.1 952.6h0M784.7 956.1h0M781.1 959.7h0M784.7 963.3h0M781.1 966.8h0M784.7 970.4h0M781.1 974.0h0M784.7 977.6h0M791.8 841.9h0M788.3 845.5h0M791.8 849.0h0M788.3 852.6h0M791.8 856.2h0M788.3 859.7h0M791.8 863.3h0M788.3 866.9h0M791.8 870.5h0M788.3 874.0h0M791.8 877.6h0M788.3 881.2h0M791.8 884.7h0M788.3 888.3h0M791.8 891.9h0M788.3 895.4h0M791.8 899.0h0M788.3 902.6h0M791.8 906.2h0M788.3 909.7h0M791.8 913.3h0M788.3 916.9h0M791.8 920.4h0M788.3 924.0h0M791.8 927.6h0M788.3 931.1h0M791.8 934.7h0M788.3 938.3h0M791.8 941.9h0M788.3 945.4h0M791.8 949.0h0M788.3 952.6h0M791.8 956.1h0M788.3 959.7h0M791.8 963.3h0M788.3 966.8h0M791.8 970.4h0M788.3 974.0h0M791.8 977.6h0" stroke="#2a2a2a" stroke-width="1.8" stroke-linecap="round" fill="none"/></g>
<g clip-path="url(#cearth)"><path d="M237.9 903.2L255.7 885.3M231.2 896.5L249.0 878.6M237.9 885.3L220.0 867.4M244.6 878.6L226.7 860.7M273.6 903.2L291.5 885.3M266.9 896.5L284.8 878.6M266.9 892.0L249.0 874.1M273.6 885.3L255.7 867.4M280.3 878.6L262.5 860.7M244.6 874.1L262.5 856.3M237.9 867.4L255.7 849.6M231.2 860.7L249.0 842.8M231.2 856.3L213.3 838.4M237.9 849.6L220.0 831.7M244.6 842.8L226.7 825.0M309.4 903.2L327.3 885.3M302.7 896.5L320.6 878.6M302.7 892.0L284.8 874.1M309.4 885.3L291.5 867.4M316.1 878.6L298.2 860.7M280.3 874.1L298.2 856.3M273.6 867.4L291.5 849.6M266.9 860.7L284.8 842.8M266.9 856.3L249.0 838.4M273.6 849.6L255.7 831.7M280.3 842.8L262.5 825.0M481.5 1039.6L499.4 1021.7M488.2 1028.4L470.3 1010.5M494.9 1021.7L477.0 1003.8M459.2 1017.2L477.0 999.3M452.5 1010.5L470.3 992.6M445.8 1003.8L463.6 985.9M452.5 992.6L434.6 974.7M459.2 985.9L441.3 968.0M423.4 981.4L441.3 963.6M416.7 974.7L434.6 956.8M410.0 968.0L427.9 950.1M416.7 956.8L398.8 939.0M423.4 950.1L405.5 932.3M387.6 945.7L405.5 927.8M380.9 939.0L398.8 921.1M374.2 932.3L392.1 914.4M380.9 921.1L363.0 903.2M387.6 914.4L369.7 896.5M351.9 909.9L369.7 892.0M345.2 903.2L363.0 885.3M338.5 896.5L356.3 878.6M338.5 892.0L320.6 874.1M345.2 885.3L327.3 867.4M351.9 878.6L334.0 860.7M316.1 874.1L334.0 856.3M309.4 867.4L327.3 849.6M302.7 860.7L320.6 842.8M302.7 856.3L284.8 838.4M309.4 849.6L291.5 831.7M316.1 842.8L298.2 825.0M517.3 1039.6L535.2 1021.7M517.3 1035.1L499.4 1017.2M524.0 1028.4L506.1 1010.5M530.7 1021.7L512.8 1003.8M494.9 1017.2L512.8 999.3M488.2 1010.5L506.1 992.6M481.5 1003.8L499.4 985.9M481.5 999.3L463.6 981.4M488.2 992.6L470.3 974.7M494.9 985.9L477.0 968.0M459.2 981.4L477.0 963.6M452.5 974.7L470.3 956.8M445.8 968.0L463.6 950.1M445.8 963.6L427.9 945.7M452.5 956.8L434.6 939.0M459.2 950.1L441.3 932.3M423.4 945.7L441.3 927.8M416.7 939.0L434.6 921.1M410.0 932.3L427.9 914.4M410.0 927.8L392.1 909.9M416.7 921.1L398.8 903.2M423.4 914.4L405.5 896.5M387.6 909.9L405.5 892.0M380.9 903.2L398.8 885.3M374.2 896.5L392.1 878.6M374.2 892.0L356.3 874.1M380.9 885.3L363.0 867.4M387.6 878.6L369.7 860.7M351.9 874.1L369.7 856.3M345.2 867.4L363.0 849.6M338.5 860.7L356.3 842.8M338.5 856.3L320.6 838.4M345.2 849.6L327.3 831.7M351.9 842.8L334.0 825.0M553.0 1039.6L570.9 1021.7M553.0 1035.1L535.2 1017.2M559.8 1028.4L541.9 1010.5M566.5 1021.7L548.6 1003.8M530.7 1017.2L548.6 999.3M524.0 1010.5L541.9 992.6M517.3 1003.8L535.2 985.9M517.3 999.3L499.4 981.4M524.0 992.6L506.1 974.7M530.7 985.9L512.8 968.0M494.9 981.4L512.8 963.6M488.2 974.7L506.1 956.8M481.5 968.0L499.4 950.1M481.5 963.6L463.6 945.7M459.2 945.7L477.0 927.8M452.5 939.0L470.3 921.1M445.8 932.3L463.6 914.4M445.8 927.8L427.9 909.9M423.4 909.9L441.3 892.0M416.7 903.2L434.6 885.3M410.0 896.5L427.9 878.6M410.0 892.0L392.1 874.1M387.6 874.1L405.5 856.3M380.9 867.4L398.8 849.6M374.2 860.7L392.1 842.8M374.2 856.3L356.3 838.4M588.8 1039.6L606.7 1021.7M588.8 1035.1L570.9 1017.2M595.5 1028.4L577.6 1010.5M602.2 1021.7L584.3 1003.8M566.5 1017.2L584.3 999.3M559.8 1010.5L577.6 992.6M553.0 1003.8L570.9 985.9M553.0 999.3L535.2 981.4M559.8 992.6L541.9 974.7M566.5 985.9L548.6 968.0M530.7 981.4L548.6 963.6M624.6 1039.6L642.5 1021.7M624.6 1035.1L606.7 1017.2M631.3 1028.4L613.4 1010.5M638.0 1021.7L620.1 1003.8M602.2 1017.2L620.1 999.3M595.5 1010.5L613.4 992.6M588.8 1003.8L606.7 985.9M588.8 999.3L570.9 981.4M595.5 992.6L577.6 974.7M602.2 985.9L584.3 968.0M566.5 981.4L584.3 963.6M660.3 1035.1L642.5 1017.2M667.0 1028.4L649.2 1010.5M673.8 1021.7L655.9 1003.8M638.0 1017.2L655.9 999.3M631.3 1010.5L649.2 992.6M624.6 1003.8L642.5 985.9M624.6 999.3L606.7 981.4M631.3 992.6L613.4 974.7M638.0 985.9L620.1 968.0M602.2 981.4L620.1 963.6M696.1 1035.1L678.2 1017.2M702.8 1028.4L684.9 1010.5M709.5 1021.7L691.6 1003.8M673.8 1017.2L691.6 999.3M667.0 1010.5L684.9 992.6M660.3 1003.8L678.2 985.9M660.3 999.3L642.5 981.4M667.0 992.6L649.2 974.7M673.8 985.9L655.9 968.0M638.0 981.4L655.9 963.6M696.1 999.3L678.2 981.4M702.8 992.6L684.9 974.7M709.5 985.9L691.6 968.0M673.8 981.4L691.6 963.6M667.0 974.7L684.9 956.8M731.9 999.3L714.0 981.4M738.6 992.6L720.7 974.7M745.3 985.9L727.4 968.0M709.5 981.4L727.4 963.6M702.8 974.7L720.7 956.8M696.1 968.0L714.0 950.1M696.1 963.6L678.2 945.7M702.8 956.8L684.9 939.0M709.5 950.1L691.6 932.3M731.9 963.6L714.0 945.7M738.6 956.8L720.7 939.0M745.3 950.1L727.4 932.3M709.5 945.7L727.4 927.8M702.8 939.0L720.7 921.1M767.6 963.6L749.8 945.7M774.3 956.8L756.5 939.0M781.1 950.1L763.2 932.3M745.3 945.7L763.2 927.8M738.6 939.0L756.5 921.1M731.9 932.3L749.8 914.4M731.9 927.8L714.0 909.9M738.6 921.1L720.7 903.2M745.3 914.4L727.4 896.5M767.6 927.8L749.8 909.9M774.3 921.1L756.5 903.2M781.1 914.4L763.2 896.5M745.3 909.9L763.2 892.0M738.6 903.2L756.5 885.3M803.4 927.8L785.5 909.9M810.1 921.1L792.2 903.2M816.8 914.4L798.9 896.5M781.1 909.9L798.9 892.0M774.3 903.2L792.2 885.3M767.6 896.5L785.5 878.6M767.6 892.0L749.8 874.1M774.3 885.3L756.5 867.4M781.1 878.6L763.2 860.7M803.4 892.0L785.5 874.1M810.1 885.3L792.2 867.4M816.8 878.6L798.9 860.7M781.1 874.1L798.9 856.3M774.3 867.4L792.2 849.6M839.2 892.0L821.3 874.1M845.9 885.3L828.0 867.4M852.6 878.6L834.7 860.7M816.8 874.1L834.7 856.3M810.1 867.4L828.0 849.6M803.4 860.7L821.3 842.8M803.4 856.3L785.5 838.4M810.1 849.6L792.2 831.7M816.8 842.8L798.9 825.0M839.2 856.3L821.3 838.4M845.9 849.6L828.0 831.7M852.6 842.8L834.7 825.0M816.8 838.4L834.7 820.5M810.1 831.7L828.0 813.8M874.9 856.3L857.1 838.4M881.6 849.6L863.8 831.7M888.3 842.8L870.5 825.0M852.6 838.4L870.5 820.5M845.9 831.7L863.8 813.8M839.2 825.0L857.1 807.1M839.2 820.5L821.3 802.6M845.9 813.8L828.0 795.9M852.6 807.1L834.7 789.2M874.9 820.5L857.1 802.6M881.6 813.8L863.8 795.9M888.3 807.1L870.5 789.2M852.6 802.6L870.5 784.7M845.9 795.9L863.8 778.0M910.7 820.5L892.8 802.6M917.4 813.8L899.5 795.9M924.1 807.1L906.2 789.2M888.3 802.6L906.2 784.7M881.6 795.9L899.5 778.0M874.9 789.2L892.8 771.3M874.9 784.7L857.1 766.8M881.6 778.0L863.8 760.1M888.3 771.3L870.5 753.4M910.7 784.7L892.8 766.8M917.4 778.0L899.5 760.1M924.1 771.3L906.2 753.4M888.3 766.8L906.2 749.0M881.6 760.1L899.5 742.3M946.5 784.7L928.6 766.8M953.2 778.0L935.3 760.1M959.9 771.3L942.0 753.4M924.1 766.8L942.0 749.0M917.4 760.1L935.3 742.3M910.7 753.4L928.6 735.5M910.7 749.0L892.8 731.1M917.4 742.3L899.5 724.4M924.1 735.5L906.2 717.7M946.5 749.0L928.6 731.1M953.2 742.3L935.3 724.4M959.9 735.5L942.0 717.7M924.1 731.1L942.0 713.2M917.4 724.4L935.3 706.5M982.2 749.0L964.3 731.1M988.9 742.3L971.1 724.4M995.6 735.5L977.8 717.7M959.9 731.1L977.8 713.2M953.2 724.4L971.1 706.5M946.5 717.7L964.3 699.8M946.5 713.2L928.6 695.3M953.2 706.5L935.3 688.6M959.9 699.8L942.0 681.9M982.2 713.2L964.3 695.3M988.9 706.5L971.1 688.6M995.6 699.8L977.8 681.9M959.9 695.3L977.8 677.4M953.2 688.6L971.1 670.7M982.2 677.4L964.3 659.5M988.9 670.7L971.1 652.8" stroke="#000" stroke-width="1.85" fill="none"/></g>
<g stroke="#000" stroke-width="4.0" fill="none" stroke-linejoin="miter">
<path d="M228.5 841.2H787.8"/>
<path d="M362.4 841.2L494.1 975.4" stroke-width="4.3"/>
<path d="M653.9 975.4L977.9 650.7V232.2"/>
<path d="M670.3 258.8L977.9 232.2" stroke-linecap="square"/>
<path d="M647.7 566.7H761.5L739.8 841.2" stroke-width="3.7"/>
</g>
<g stroke="#000" stroke-width="3.9" fill="#fff">
<rect x="494.1" y="905.6" width="159.8" height="69.8"/>
<rect x="529.3" y="841.2" width="90.4" height="64.4"/>
<rect x="535.1" y="776.4" width="90.0" height="64.7"/>
<rect x="540.8" y="711.7" width="90.0" height="64.7"/>
<rect x="546.4" y="647.0" width="90.0" height="64.7"/>
<rect x="552.0" y="582.3" width="90.0" height="64.7"/>
<rect x="557.7" y="517.6" width="90.0" height="64.7"/>
<rect x="563.3" y="452.9" width="90.0" height="64.7"/>
<rect x="569.0" y="388.2" width="90.0" height="64.7"/>
<rect x="574.6" y="323.5" width="90.0" height="64.7"/>
<rect x="580.3" y="258.8" width="90.0" height="64.7"/>
</g>
<path d="M642.0 582H805.6" stroke="#000" stroke-width="1.8"/>
<path d="M630.8 711.8H795.7" stroke="#000" stroke-width="3.2" stroke-linecap="round"/>
<circle cx="668.3" cy="808.3" r="16.4" fill="#fff" stroke="#000" stroke-width="4"/>
<path d="M529 485.8V776.5" stroke="#000" stroke-width="3.8" stroke-linecap="round"/>
<g stroke="#000" stroke-width="1.6" fill="none">
<path d="M145.75 258.9H556.4M145.75 258.9V905.4H469.8M136 239L156.7 279.5M136.2 886.2L156.9 926.6"/>
<path d="M529.1 40.3V163M599.2 43.6L589.3 163"/>
<path d="M529.1 60.7H559M566.1 60.8L596 63.4"/>
<path d="M574.8 171.1V314.5M580.4 171.1V258M558.6 191.3H595.9M562.1 198.3L586.7 185.4M567.8 198.3L592.9 185.4"/>
<path d="M990.1 231.2L1163.4 215.9M990.1 258.9H1165.2M1123.9 158.5L1132.4 193.5L1133.3 217M1135.3 261L1134.4 283.6L1130.4 318"/>
</g>
<g stroke="#000" stroke-width="1.9" fill="none">
<path d="M702.9 181L934 161.4"/>
<path d="M1069.5 391.8H806M1069.5 589H879L718.5 709.5M879 589C821 628.8 761.2 666.2 718.5 709.5M1069.5 740H682M1069.5 805.1H688M1069.5 871.3H800M1069.5 943.5H661M413.6 553.9H516"/>
</g>
<path d="M702.9 181.0L707.1 230.8" stroke="#000" stroke-width="1.9"/>
<path d="M706.8 227.1L699.2 205.7L710.7 204.7Z" fill="none" stroke="#000" stroke-width="1.9" stroke-miterlimit="10"/>
<path d="M779.9 174.5L784.2 224.3" stroke="#000" stroke-width="1.9"/>
<path d="M783.8 220.6L776.2 199.2L787.8 198.2Z" fill="none" stroke="#000" stroke-width="1.9" stroke-miterlimit="10"/>
<path d="M857.0 167.9L861.2 217.8" stroke="#000" stroke-width="1.9"/>
<path d="M860.9 214.1L853.2 192.6L864.8 191.7Z" fill="none" stroke="#000" stroke-width="1.9" stroke-miterlimit="10"/>
<path d="M934.0 161.4L938.2 211.2" stroke="#000" stroke-width="1.9"/>
<path d="M937.9 207.5L930.3 186.1L941.8 185.1Z" fill="none" stroke="#000" stroke-width="1.9" stroke-miterlimit="10"/>
<path d="M807.7 391.8L829.7 386.0L829.7 397.6Z" fill="none" stroke="#000" stroke-width="1.9" stroke-miterlimit="10"/>
<path d="M683.6 740.0L704.4 734.8L704.4 745.2Z" fill="none" stroke="#000" stroke-width="1.9" stroke-miterlimit="10"/>
<path d="M690.1 805.1L708.6 799.9L708.6 810.3Z" fill="none" stroke="#000" stroke-width="1.9" stroke-miterlimit="10"/>
<path d="M802.9 871.3L824.9 865.5L824.9 877.1Z" fill="none" stroke="#000" stroke-width="1.9" stroke-miterlimit="10"/>
<path d="M663.9 943.5L685.9 937.7L685.9 949.3Z" fill="none" stroke="#000" stroke-width="1.9" stroke-miterlimit="10"/>
<path d="M515.7 553.9L493.7 559.7L493.7 548.1Z" fill="none" stroke="#000" stroke-width="1.9" stroke-miterlimit="10"/>
<path d="M721.5 707.3L735.6 689.4L742.5 698.7Z" fill="none" stroke="#000" stroke-width="1.9" stroke-miterlimit="10"/>
<path d="M1133.3 215.3L1126.6 193.6L1138.2 193.1Z" fill="none" stroke="#000" stroke-width="1.7" stroke-miterlimit="10"/>
<path d="M1135.3 262.8L1140.5 284.9L1128.9 284.6Z" fill="none" stroke="#000" stroke-width="1.7" stroke-miterlimit="10"/>
<path d="M532.7 60.7L552.7 55.4L552.7 66.0Z" fill="none" stroke="#000" stroke-width="1.7" stroke-miterlimit="10"/>
<path d="M594.3 63.3L573.9 66.9L574.8 56.4Z" fill="none" stroke="#000" stroke-width="1.7" stroke-miterlimit="10"/>
<text transform="translate(243.92 71.80) scale(0.8240 1)" font-size="28.05">FACIA</text>
<text transform="translate(323.18 71.80) scale(0.8289 1)" font-size="28.05">SETBACK</text>
<text transform="translate(444.17 71.80) scale(0.8305 1)" font-size="28.05">ANGLE</text>
<text><tspan x="551.10" y="47.90" font-size="29.51" textLength="15.25" lengthAdjust="spacingAndGlyphs">5</tspan><tspan x="567.77" y="50.20" font-size="29.51" textLength="12.27" lengthAdjust="spacingAndGlyphs">°</tspan></text>
<text transform="translate(338.31 200.60) scale(0.8561 1)" font-size="30.52">SETBACK</text>
<text><tspan x="478.01" y="200.60" font-size="30.52" textLength="33.39" lengthAdjust="spacingAndGlyphs">18</tspan><tspan x="512.48" y="200.60" font-size="26.86" textLength="43.13" lengthAdjust="spacingAndGlyphs">mm</tspan></text>
<text transform="translate(664.80 174.90) rotate(-4.85) translate(-1.03 0) scale(0.7702 1)" font-size="29.51">SURCHARGE</text>
<text transform="translate(664.80 174.90) rotate(-4.85) translate(159.38 0) scale(0.7528 1)" font-size="29.51">LOAD</text>
<text transform="translate(664.80 174.90) rotate(-4.85)"><tspan x="247.44" y="0.00" font-size="29.51" textLength="30.12" lengthAdjust="spacingAndGlyphs">10</tspan><tspan x="277.83" y="0.00" font-size="25.97" textLength="13.13" lengthAdjust="spacingAndGlyphs">k</tspan><tspan x="291.87" y="0.00" font-size="29.51" textLength="15.67" lengthAdjust="spacingAndGlyphs">P</tspan><tspan x="308.34" y="0.00" font-size="25.97" textLength="13.86" lengthAdjust="spacingAndGlyphs">a</tspan></text>
<text transform="translate(1173.69 233.40) scale(0.9001 1)" font-size="29.94">BACKSLOPE</text>
<text transform="translate(1174.65 271.00) scale(0.8606 1)" font-size="29.94">ANGLE</text>
<text><tspan x="1276.93" y="271.00" font-size="29.94" textLength="16.19" lengthAdjust="spacingAndGlyphs">5</tspan><tspan x="1294.39" y="272.70" font-size="29.94" textLength="12.13" lengthAdjust="spacingAndGlyphs">°</tspan></text>
<text transform="translate(1070.55 389.40) scale(0.8611 1)" font-size="26.89">DENSELY</text>
<text transform="translate(1192.26 389.40) scale(0.8517 1)" font-size="26.89">COMPACTED</text>
<text transform="translate(1070.48 415.40) scale(0.8922 1)" font-size="26.89">BACKFILL</text>
<text><tspan x="1195.67" y="415.20" font-size="26.89" textLength="27.30" lengthAdjust="spacingAndGlyphs">28</tspan><tspan x="1225.16" y="416.80" font-size="26.89" textLength="13.70" lengthAdjust="spacingAndGlyphs">°</tspan></text>
<text><tspan x="1262.09" y="415.20" font-size="26.89" textLength="31.10" lengthAdjust="spacingAndGlyphs">20</tspan><tspan x="1293.39" y="415.20" font-size="23.13" textLength="12.67" lengthAdjust="spacingAndGlyphs">k</tspan><tspan x="1308.12" y="415.20" font-size="26.89" textLength="16.55" lengthAdjust="spacingAndGlyphs">N</tspan><tspan x="1328.94" y="420.50" font-size="36.03">/</tspan><tspan x="1343.40" y="415.20" font-size="23.13" textLength="17.59" lengthAdjust="spacingAndGlyphs">m</tspan></text>
<text transform="translate(1375.17 415.20) scale(1.1488 1)" font-size="23.13">cube</text>
<text transform="translate(1071.31 587.20) scale(0.8369 1)" font-size="26.89">GEOGRID</text>
<text transform="translate(1189.24 587.20) scale(0.8631 1)" font-size="26.89">REINFORCEMENT</text>
<text transform="translate(1071.61 613.20) scale(0.8916 1)" font-size="26.89">(LENGTH</text>
<text transform="translate(1188.29 613.20) scale(0.8517 1)" font-size="26.89">MEASURED</text>
<text transform="translate(1330.67 613.20) scale(0.8788 1)" font-size="26.89">FROM</text>
<text transform="translate(1084.24 639.20) scale(0.8440 1)" font-size="26.89">FRONT</text>
<text transform="translate(1176.46 639.20) scale(0.8086 1)" font-size="26.89">OF</text>
<text transform="translate(1220.12 639.20) scale(0.8716 1)" font-size="26.89">MASONRY)</text>
<text transform="translate(1070.50 739.40) scale(0.8802 1)" font-size="26.89">FREE</text>
<text transform="translate(1145.34 739.40) scale(0.8612 1)" font-size="26.89">DRAINING</text>
<text transform="translate(1270.64 739.40) scale(0.8572 1)" font-size="26.89">GRANULAR</text>
<text transform="translate(1070.35 765.40) scale(0.9478 1)" font-size="26.89">FILL:</text>
<text transform="translate(1139.45 765.40) scale(0.8766 1)" font-size="26.89">MIN</text>
<text transform="translate(1195.97 765.40) scale(0.9820 1)" font-size="26.89">0.3m</text>
<text transform="translate(1268.12 765.40) scale(0.8256 1)" font-size="26.89">WIDE</text>
<text transform="translate(1070.52 808.70) scale(0.8739 1)" font-size="26.89">DRAIN</text>
<text transform="translate(1154.93 808.70) scale(0.9377 1)" font-size="26.89">PIPE</text>
<text transform="translate(1070.61 874.40) scale(0.8324 1)" font-size="26.89">NATIVE</text>
<text transform="translate(1164.70 874.40) scale(0.8795 1)" font-size="26.89">SOIL</text>
<text transform="translate(1071.47 941.10) scale(0.8018 1)" font-size="26.89">SLOW</text>
<text transform="translate(1149.24 941.10) scale(0.8638 1)" font-size="26.89">DRAINING</text>
<text transform="translate(1276.58 941.10) scale(0.8196 1)" font-size="26.89">WELL</text>
<text transform="translate(1349.36 941.10) scale(0.8390 1)" font-size="26.89">GRADED</text>
<text transform="translate(1071.40 967.10) scale(0.8558 1)" font-size="26.89">SAND</text>
<text transform="translate(1148.82 967.10) scale(0.8506 1)" font-size="26.89">AND</text>
<text transform="translate(1209.52 967.10) scale(0.8431 1)" font-size="26.89">GRAVEL</text>
<text transform="translate(34.80 417.90) scale(0.8542 1)" font-size="30.52">HEIGHT</text>
<text transform="translate(96.90 455.50) scale(0.8696 1)" font-size="30.52">OF</text>
<text transform="translate(64.87 493.10) scale(0.8261 1)" font-size="30.52">WALL</text>
<text transform="translate(266.69 538.80) scale(0.8731 1)" font-size="26.16">TERRAFORCE</text>
<text transform="translate(265.53 565.10) scale(1.0631 1)" font-size="26.16">L18</text>
<text transform="translate(324.97 565.10) scale(0.9106 1)" font-size="26.16">BLOCK</text>
<text transform="translate(191.42 780.80) scale(0.8287 1)" font-size="27.62">TOE</text>
<text transform="translate(190.86 807.10) scale(0.8456 1)" font-size="27.62">EMBEDMENT</text>
<text><tspan x="191.86" y="833.60" font-size="27.62" textLength="47.65" lengthAdjust="spacingAndGlyphs">200</tspan><tspan x="239.98" y="833.60" font-size="24.30" textLength="38.13" lengthAdjust="spacingAndGlyphs">mm</tspan></text>
<text transform="translate(610.14 301.00) scale(0.9805 1)" font-size="27.62" stroke-width="0.50">10</text>
<text transform="translate(611.76 365.70) scale(0.9564 1)" font-size="27.62" stroke-width="0.50">9</text>
<text transform="translate(605.42 430.40) scale(1.0649 1)" font-size="27.62" stroke-width="0.50">8</text>
<text transform="translate(599.64 495.10) scale(1.0992 1)" font-size="27.62" stroke-width="0.50">7</text>
<text transform="translate(594.91 559.80) scale(0.9888 1)" font-size="27.62" stroke-width="0.50">6</text>
<text transform="translate(589.03 624.50) scale(1.0539 1)" font-size="27.62" stroke-width="0.50">5</text>
<text transform="translate(583.66 689.20) scale(1.0613 1)" font-size="27.62" font-weight="bold" stroke-width="0.60">4</text>
<text transform="translate(578.10 753.90) scale(1.0463 1)" font-size="27.62" stroke-width="0.50">3</text>
<text transform="translate(572.74 818.60) scale(1.0492 1)" font-size="27.62" stroke-width="0.50">2</text>
<text transform="translate(532.95 870.30) scale(0.8855 1)" font-size="26.89" stroke-width="0.80">BLOCK</text>
<text transform="translate(568.37 896.60) scale(0.6576 1)" font-size="26.45" stroke-width="0.80">1</text>
<text transform="translate(497.90 949.80) scale(0.8480 1)" font-size="27.33" stroke-width="0.80">FOUNDATION</text>
</svg></body></html>
